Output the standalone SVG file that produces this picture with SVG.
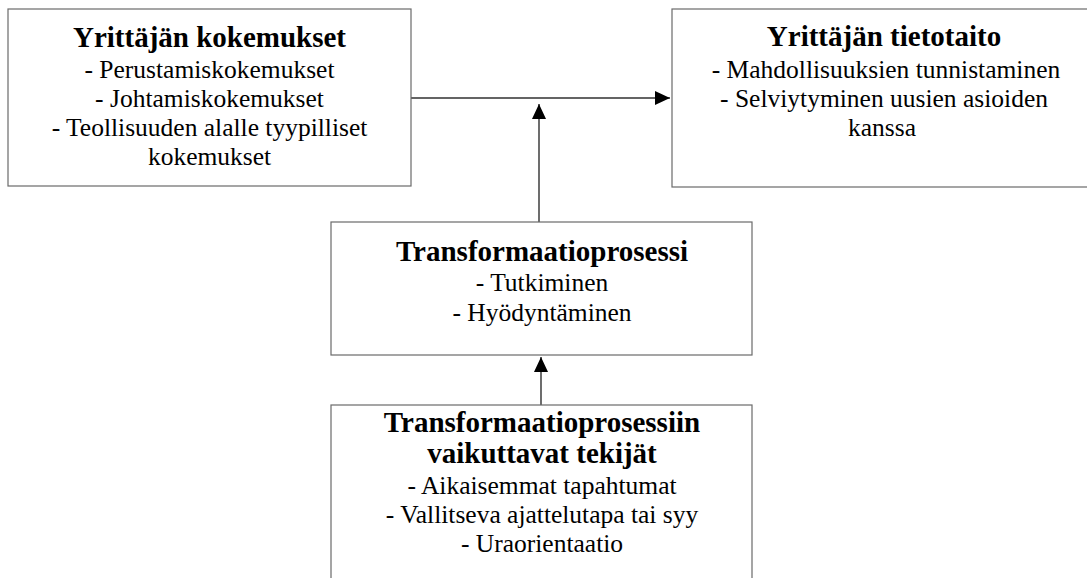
<svg xmlns="http://www.w3.org/2000/svg" width="1087" height="578" viewBox="0 0 1087 578">
  <style>
    .box { fill: #ffffff; stroke: #6a6a6a; stroke-width: 1.2; }
    .title { font-family: "Liberation Serif", "Times New Roman", serif; font-weight: bold; font-size: 29px; fill: #000; text-anchor: middle; }
    .item { font-family: "Liberation Serif", "Times New Roman", serif; font-size: 25.5px; fill: #000; text-anchor: middle; }
    .edge { stroke: #303030; stroke-width: 1.4; fill: none; marker-end: url(#arrow); }
  </style>
  <defs>
    <marker id="arrow" markerUnits="userSpaceOnUse" markerWidth="16" markerHeight="15" refX="15" refY="7" orient="auto">
      <path d="M0,0 L15,7 L0,14 Z" fill="#000"/>
    </marker>
  </defs>
  <rect width="1087" height="578" fill="#ffffff"/>

  <g id="edges">
    <line class="edge" x1="411" y1="98" x2="670" y2="98"/>
    <line class="edge" x1="539" y1="222" x2="539" y2="104"/>
    <line class="edge" x1="541" y1="405" x2="541" y2="357"/>
  </g>

  <g id="node-kokemukset">
    <rect class="box" x="8" y="9" width="403" height="177"/>
    <text class="title" x="209.5" y="46.5">Yrittäjän kokemukset</text>
    <text class="item" x="209.5" y="77.5">- Perustamiskokemukset</text>
    <text class="item" x="209.5" y="106.5">- Johtamiskokemukset</text>
    <text class="item" x="209.5" y="135.5">- Teollisuuden alalle tyypilliset</text>
    <text class="item" x="209.5" y="165">kokemukset</text>
  </g>

  <g id="node-tietotaito">
    <rect class="box" x="672" y="9" width="425" height="178"/>
    <text class="title" x="884" y="45.5">Yrittäjän tietotaito</text>
    <text class="item" x="886" y="77.5">- Mahdollisuuksien tunnistaminen</text>
    <text class="item" x="884" y="106.5">- Selviytyminen uusien asioiden</text>
    <text class="item" x="882" y="135.5">kanssa</text>
  </g>

  <g id="node-transformaatio">
    <rect class="box" x="331" y="222" width="421" height="133"/>
    <text class="title" x="542" y="260.5">Transformaatioprosessi</text>
    <text class="item" x="542" y="291">- Tutkiminen</text>
    <text class="item" x="542" y="320.5">- Hyödyntäminen</text>
  </g>

  <g id="node-tekijat">
    <rect class="box" x="331" y="405" width="421" height="190"/>
    <text class="title" x="542" y="431.5">Transformaatioprosessiin</text>
    <text class="title" x="542" y="463">vaikuttavat tekijät</text>
    <text class="item" x="542" y="494">- Aikaisemmat tapahtumat</text>
    <text class="item" x="542" y="523">- Vallitseva ajattelutapa tai syy</text>
    <text class="item" x="542" y="552">- Uraorientaatio</text>
  </g>
</svg>
